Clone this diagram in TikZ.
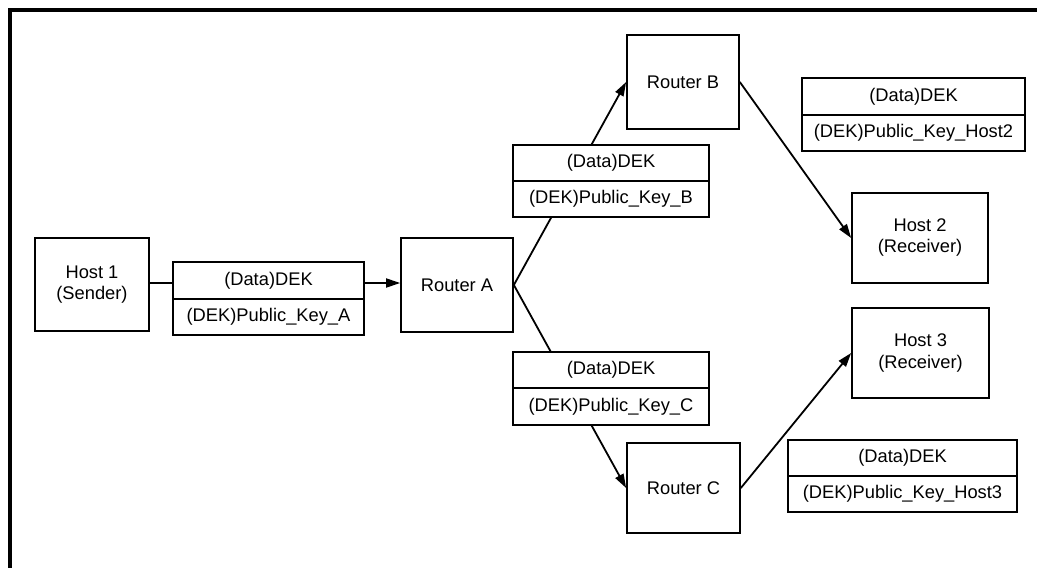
\documentclass[tikz,border=0pt]{standalone}
\usepackage{fontspec}
\setmainfont{Liberation Sans}
\usetikzlibrary{arrows.meta}

\tikzset{
  unit/.style={draw, line width=1.7pt, inner sep=0pt, align=center,
    font=\fontsize{18.3}{21}\selectfont},
  cell/.style={draw, fill=white, line width=1.7pt, inner sep=0pt,
    font=\fontsize{18.3}{21}\selectfont},
  link/.style={line width=1.8pt},
  flow/.style={link, -{Triangle[length=14pt,width=9pt]}},
  frame/.style={line width=4pt}
}

\begin{document}
\begin{tikzpicture}[x=1pt, y=-1pt]
  \useasboundingbox (0,0) rectangle (1037,568);

  % outer frame (top and left edges)
  \coordinate (ftl) at (9.5,10);
  \coordinate (ftr) at (1037,10);
  \coordinate (fbl) at (9.5,568);
  \draw[frame] (ftr) -- (ftl) -- (fbl);

  % hosts and routers
  \node[unit, minimum width=114pt, minimum height=93pt] (h1) at (92,284.5) {Host 1\\(Sender)};
  \node[unit, minimum width=112pt, minimum height=94pt] (ra) at (457,285) {Router A};
  \node[unit, minimum width=112pt, minimum height=94pt] (rb) at (683,82) {Router B};
  \node[unit, minimum width=113pt, minimum height=90pt] (rc) at (683.5,488) {Router C};
  \node[unit, minimum width=136pt, minimum height=90pt] (h2) at (920,238) {Host 2\\(Receiver)};
  \node[unit, minimum width=137pt, minimum height=90pt] (h3) at (920.5,353) {Host 3\\(Receiver)};

  % links
  \draw[flow] (h1.east |- 0,283) -- (ra.west |- 0,283);
  \draw[flow] (ra.east) -- (rb.west);
  \draw[flow] (ra.east) -- (rc.west);
  \draw[flow] (rb.east) -- (h2.west);
  \draw[flow] (rc.east) -- (h3.west);

  % packets: encrypted data over encrypted key
  \node[cell, minimum width=191pt, minimum height=37pt] (pa1) at (268.5,280.5) {(Data)DEK};
  \node[cell, minimum width=191pt, minimum height=36pt] (pa2) at (268.5,317) {(DEK)Public\_Key\_A};

  \node[cell, minimum width=196pt, minimum height=36pt] (pb1) at (611,163) {(Data)DEK};
  \node[cell, minimum width=196pt, minimum height=36pt] (pb2) at (611,199) {(DEK)Public\_Key\_B};

  \node[cell, minimum width=196pt, minimum height=36pt] (pc1) at (611,370) {(Data)DEK};
  \node[cell, minimum width=196pt, minimum height=37pt] (pc2) at (611,406.5) {(DEK)Public\_Key\_C};

  \node[cell, minimum width=223pt, minimum height=37pt] (p21) at (913.5,96.5) {(Data)DEK};
  \node[cell, minimum width=223pt, minimum height=36pt] (p22) at (913.5,133) {(DEK)Public\_Key\_Host2};

  \node[cell, minimum width=229pt, minimum height=36pt] (p31) at (902.5,458) {(Data)DEK};
  \node[cell, minimum width=229pt, minimum height=36pt] (p32) at (902.5,494) {(DEK)Public\_Key\_Host3};
\end{tikzpicture}
\end{document}
